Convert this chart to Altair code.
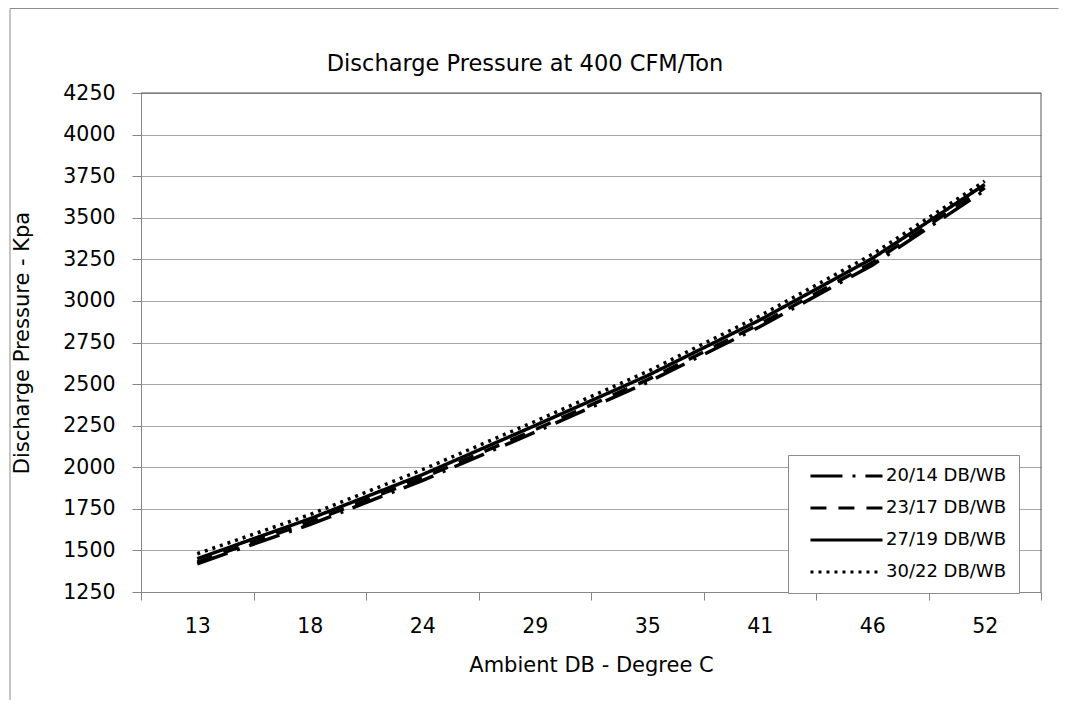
import altair as alt
import pandas as pd

# ---- data ----
ambient = ["13", "18", "24", "29", "35", "41", "46", "52"]
series_names = ["20/14 DB/WB", "23/17 DB/WB", "27/19 DB/WB", "30/22 DB/WB"]
p_20_14 = [1420, 1655, 1920, 2210, 2510, 2845, 3215, 3665]
p_23_17 = [1430, 1670, 1935, 2225, 2525, 2860, 3230, 3680]
p_27_19 = [1450, 1690, 1955, 2250, 2550, 2885, 3255, 3700]
p_30_22 = [1480, 1715, 1985, 2275, 2575, 2910, 3280, 3720]
y_ticks = [1250, 1500, 1750, 2000, 2250, 2500, 2750, 3000, 3250, 3500, 3750, 4000, 4250]

rows = []
for name, vals in zip(series_names, [p_20_14, p_23_17, p_27_19, p_30_22]):
    for a, v in zip(ambient, vals):
        rows.append({"ambient": a, "pressure": v, "series": name})
df = pd.DataFrame(rows)

W, H = 900, 499
FONT = "DejaVu Sans"
AXIS_GRAY = "#868686"
GRID_GRAY = "#a6a6a6"

one = pd.DataFrame({"k": [0]})

outer_top = alt.Chart(one).mark_rule(color="#8c8c8c", strokeWidth=1, clip=False).encode(
    x=alt.value(-131), x2=alt.value(W + 17.5), y=alt.value(-84.5)
)
outer_left = alt.Chart(one).mark_rule(color="#8c8c8c", strokeWidth=1, clip=False).encode(
    x=alt.value(-131), y=alt.value(-84.5), y2=alt.value(H + 108)
)

lines = alt.Chart(df).mark_line(
    strokeWidth=3.5, color="black", strokeCap="butt", clip=False
).encode(
    x=alt.X(
        "ambient:O", sort=ambient, bandPosition=0.5,
        scale=alt.Scale(type="band", paddingInner=0, paddingOuter=0),
        axis=alt.Axis(
            title="Ambient DB - Degree C", tickBand="extent", grid=False,
            labelAngle=0, tickSize=8, labelPadding=16, titlePadding=18,
        ),
    ),
    y=alt.Y(
        "pressure:Q",
        scale=alt.Scale(domain=[1250, 4250], nice=False, zero=False),
        axis=alt.Axis(
            title="Discharge Pressure - Kpa", values=y_ticks, format="d",
            tickSize=9, labelPadding=17, titlePadding=30, grid=True,
            gridColor=GRID_GRAY,
        ),
    ),
    strokeDash=alt.StrokeDash(
        "series:N",
        scale=alt.Scale(
            domain=series_names,
            range=[[32, 10, 3, 10], [16, 12], [1, 0], [3, 5]],
        ),
        legend=alt.Legend(
            title=None, orient="none", legendX=647, legendY=362,
            symbolType="M0.21,0H10.5", symbolSize=196, symbolStrokeWidth=3,
            symbolStrokeColor="black", symbolFillColor="white",
            labelOffset=68, labelFont=FONT, labelFontSize=18,
            labelColor="black", labelLimit=400, rowPadding=14, padding=12,
            strokeColor="#8c8c8c", fillColor="white",
        ),
    ),
)

top_rule = alt.Chart(one).mark_rule(color="#595959", strokeWidth=1).encode(
    x=alt.value(0), x2=alt.value(W), y=alt.value(0)
)
right_rule = alt.Chart(one).mark_rule(color="#595959", strokeWidth=1).encode(
    x=alt.value(W), y=alt.value(0), y2=alt.value(H)
)

chart = alt.layer(outer_top, outer_left, lines, top_rule, right_rule).properties(
    width=W, height=H,
    autosize=alt.AutoSizeParams(type="none"),
    padding={"left": 133, "top": 85, "right": 18, "bottom": 110},
    title=alt.TitleParams(
        "Discharge Pressure at 400 CFM/Ton", font=FONT, fontSize=22.5,
        fontWeight="normal", color="black", anchor="middle", frame="group",
        dx=-66, dy=67, offset=0,
    ),
).configure_view(stroke=None).configure_axis(
    labelFont=FONT, labelFontSize=20.5, labelColor="black",
    titleFont=FONT, titleFontSize=21, titleFontWeight="normal",
    titleColor="black", domainColor=AXIS_GRAY, tickColor=AXIS_GRAY,
)

chart.save("out.html", embed_options={"renderer": "svg", "actions": False})
